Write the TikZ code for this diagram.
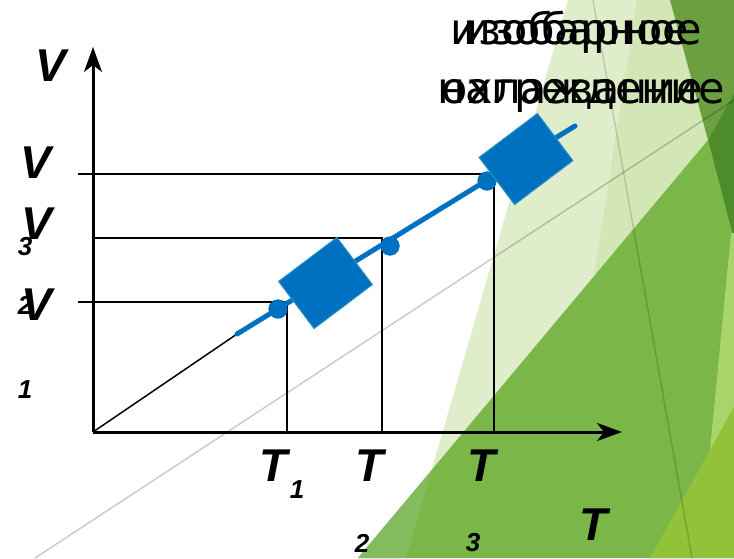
\documentclass[tikz,border=0pt]{standalone}
\usepackage{fontspec}
\setmainfont{Liberation Sans}
\newfontfamily\captionfont{DejaVu Sans}
\usepackage{xcolor}
\usetikzlibrary{arrows.meta}

\definecolor{pistonblue}{HTML}{0070C0}
\definecolor{pistonedge}{HTML}{2A93C2}
\definecolor{palegreen}{HTML}{DFEDCB}
\definecolor{palegreenb}{HTML}{D3E7B6}
\definecolor{midgreen}{HTML}{7AB648}
\definecolor{midgreenb}{HTML}{82BC5E}
\definecolor{topgreen}{HTML}{6B9F3F}
\definecolor{darkgreen}{HTML}{4E8B2A}
\definecolor{stripgreen}{HTML}{A9D46A}
\definecolor{limegreen}{HTML}{92C13A}

\begin{document}
\begin{tikzpicture}[x=1pt, y=-1pt,
    % Estilos para no repetir codigo
    axis/.style={line width=3pt, -{Stealth[length=25pt, width=18pt, inset=7pt]}},
    guide/.style={line width=1.8pt},
    lbl/.style={font=\fontsize{46}{46}\selectfont\bfseries\itshape, inner sep=0pt},
    sublbl/.style={font=\fontsize{26}{26}\selectfont\bfseries\itshape, inner sep=0pt},
    dot/.style={circle, fill=pistonblue, minimum size=19pt, inner sep=0pt},
    piston/.style={rectangle, fill=pistonblue, draw=pistonedge, line width=1pt,
      minimum width=73pt, minimum height=59pt, inner sep=0pt, rotate=37},
    caption/.style={font=\captionfont\fontsize{43}{59}\selectfont, align=center, inner sep=0pt}
  ]
  \useasboundingbox (0,0) rectangle (734,558);

  % 1. Fondo con las facetas verdes
  \fill[palegreen] (568,0) -- (734,0) -- (734,558) -- (406,558) -- cycle;
  \fill[palegreenb] (637,0) -- (670,0) -- (708,140) -- (594,276) -- cycle;
  \fill[midgreen] (708,140) -- (734,240) -- (734,558) -- (358,558) -- cycle;
  \fill[midgreenb] (432,470) -- (406,558) -- (358,558) -- cycle;
  \fill[topgreen] (670,0) -- (734,0) -- (734,93) -- (708,140) -- cycle;
  \fill[darkgreen] (708,140) -- (734,93) -- (734,240) -- cycle;
  \fill[stripgreen] (731,233) -- (734,233) -- (734,407) -- (710,450) -- cycle;
  \fill[limegreen] (650,558) -- (734,407) -- (734,558) -- cycle;
  \draw[black, opacity=0.2, line width=1.5pt] (35,558) -- (734,100);
  \draw[black, opacity=0.15, line width=1.5pt] (593,0) -- (692,558);

  % 2. Ejes
  \coordinate (O) at (93,432);
  \coordinate (Vtip) at (93,47);
  \coordinate (Ttip) at (622,432);

  % 3. Estados del gas
  \node[dot] (p1) at (278,309) {};
  \node[dot] (p2) at (390,246) {};
  \node[dot] (p3) at (487,181) {};

  % Proyecciones sobre los ejes
  \coordinate (v1) at (78,302);
  \coordinate (v2) at (93,238);
  \coordinate (v3) at (78,174);
  \coordinate (c1) at (287,302);
  \coordinate (c2) at (382,238);
  \coordinate (c3) at (494,174);
  \coordinate (t1) at (287,432);
  \coordinate (t2) at (382,432);
  \coordinate (t3) at (494,432);

  \draw[guide] (v1) -- (c1) -- (t1);
  \draw[guide] (v2) -- (c2) -- (t2);
  \draw[guide] (v3) -- (c3) -- (t3);

  % Recta de la isobara
  \coordinate (lineStart) at (237,334);
  \coordinate (lineEnd) at (575,126);
  \draw[line width=1.5pt] (O) -- (lineStart);
  \draw[pistonblue, line width=5pt, line cap=round] (lineStart) -- (lineEnd);
  \node[dot] at (p1) {};
  \node[dot] at (p2) {};
  \node[dot] at (p3) {};

  % Pistones
  \node[piston] (pistonA) at (325.5,283) {};
  \node[piston] (pistonB) at (526,159) {};

  \draw[axis] (O) -- (Vtip);
  \draw[axis] (O) -- (Ttip);

  % 4. Etiquetas
  \node[lbl] (Vaxis) at (51,66) {V};
  \node[lbl] (V3) at (36,163) {V};
  \node[sublbl] (V3s) at (25,247) {3};
  \node[lbl] (V2) at (37,224) {V};
  \node[sublbl] (V2s) at (25,305) {2};
  \node[lbl] (V1) at (37,305) {V};
  \node[sublbl] (V1s) at (25,390) {1};

  \node[lbl] (T1) at (274,466) {T};
  \node[sublbl] (T1s) at (297,490) {1};
  \node[lbl] (T2) at (370,466) {T};
  \node[sublbl] (T2s) at (362,543) {2};
  \node[lbl] (T3) at (482,466) {T};
  \node[sublbl] (T3s) at (473,543) {3};
  \node[lbl] (Taxis) at (594,525) {T};

  % Textos superpuestos
  \node[caption, anchor=north] (heat) at (570,11) {изобарное\\нагревание};
  \node[caption, anchor=north] (cool) at (583,11) {изобарное\\охлаждение};

\end{tikzpicture}
\end{document}
